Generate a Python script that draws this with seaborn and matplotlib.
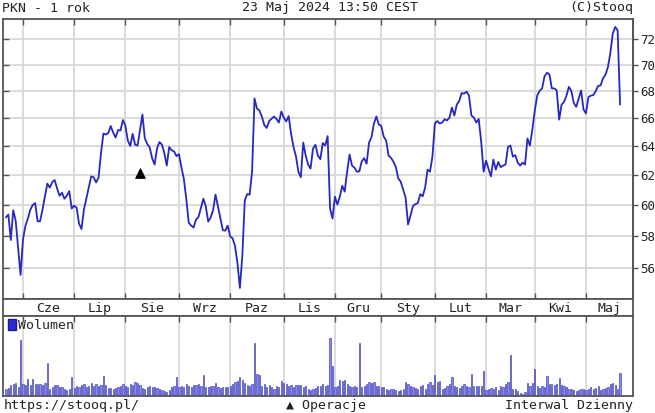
import matplotlib
matplotlib.use("Agg")
import matplotlib.pyplot as plt
import numpy as np
import pandas as pd
import seaborn as sns
from matplotlib.ticker import FixedLocator, FixedFormatter, NullLocator, NullFormatter
from matplotlib.patches import Patch

# ---------------- data ----------------
holidays = ["2023-06-08", "2023-08-15", "2023-11-01", "2023-12-25", "2023-12-26",
            "2024-01-01", "2024-03-29", "2024-04-01", "2024-05-01", "2024-05-03"]
start_date = "2023-05-23"
end_date = "2024-05-23"

month_labels = ["Cze", "Lip", "Sie", "Wrz", "Paz", "Lis", "Gru",
                "Sty", "Lut", "Mar", "Kwi", "Maj"]
y_ticks = [56, 58, 60, 62, 64, 66, 68, 70, 72]

price = [
    59.19, 59.38, 57.74, 59.66, 58.98, 57.22, 55.57, 57.78, 58.65, 59.12,
    59.70, 60.00, 60.13, 58.94, 58.94, 59.70, 60.56, 61.43, 61.16, 61.53,
    61.67, 61.10, 60.62, 60.82, 60.42, 60.62, 60.92, 59.77, 59.96, 59.83,
    58.79, 58.44, 59.70, 60.42, 61.16, 61.92, 61.86, 61.51, 61.83, 63.50,
    64.90, 64.83, 64.93, 65.44, 64.97, 64.62, 65.15, 65.12, 65.87, 65.48,
    64.41, 64.02, 64.88, 64.11, 64.05, 65.12, 66.27, 64.55, 64.16, 63.91,
    63.16, 62.73, 63.84, 64.30, 64.12, 63.52, 62.66, 63.95, 63.72, 63.64,
    63.31, 63.45, 62.55, 61.76, 60.42, 58.86, 58.66, 58.54, 59.05, 59.22,
    59.80, 60.42, 59.92, 58.92, 59.18, 59.67, 60.69, 59.90, 59.12, 58.37,
    58.34, 58.66, 57.97, 57.85, 57.36, 56.30, 54.78, 56.75, 60.30, 60.73,
    60.69, 62.24, 67.45, 66.71, 66.57, 66.13, 65.52, 65.30, 65.80, 65.97,
    66.13, 65.95, 65.69, 66.49, 66.05, 65.77, 66.16, 64.90, 63.95, 63.31,
    62.24, 61.86, 64.26, 63.35, 62.73, 62.45, 63.84, 64.11, 63.35, 63.10,
    64.23, 64.05, 64.72, 59.77, 59.12, 60.56, 60.03, 60.56, 61.29, 60.89,
    62.24, 63.42, 62.66, 62.52, 62.24, 62.26, 62.95, 63.17, 62.79, 64.26,
    64.65, 65.62, 66.13, 65.55, 65.45, 64.69, 64.41, 63.35, 63.19, 62.93,
    62.55, 61.78, 61.56, 61.03, 60.49, 58.73, 59.31, 59.93, 60.06, 60.13,
    60.72, 60.58, 61.16, 62.38, 62.24, 63.28, 65.62, 65.80, 65.62, 65.69,
    65.93, 65.84, 66.05, 66.78, 66.20, 67.00, 67.26, 67.85, 67.81, 67.96,
    67.66, 66.20, 66.05, 65.69, 65.95, 64.34, 62.24, 63.00, 62.45, 61.92,
    63.07, 62.38, 62.90, 62.55, 62.66, 62.73, 63.95, 64.05, 63.28, 63.38,
    62.86, 62.66, 62.86, 62.73, 64.55, 64.05, 65.19, 66.56, 67.66, 68.02,
    68.20, 69.11, 69.38, 69.27, 68.20, 68.20, 68.05, 65.90, 67.00, 67.19,
    67.66, 68.32, 68.00, 67.12, 66.83, 67.44, 68.05, 66.64, 66.35, 67.55,
    67.66, 67.70, 68.00, 68.39, 68.43, 68.96, 69.23, 69.80, 70.90, 72.44,
    72.96, 72.68, 67.00,
]

# daily volume (relative units, axis unlabeled in the original)
volume = [
    7, 8, 11, 12, 13, 9, 56, 12, 11, 17,
    11, 17, 12, 12, 12, 11, 13, 33, 7, 9,
    11, 11, 9, 9, 7, 6, 7, 19, 8, 10,
    9, 11, 12, 9, 10, 13, 10, 12, 10, 11,
    20, 11, 8, 8, 7, 8, 9, 10, 12, 10,
    9, 12, 11, 14, 13, 11, 8, 7, 9, 10,
    9, 9, 8, 7, 6, 5, 4, 6, 9, 10,
    19, 9, 10, 9, 12, 10, 9, 11, 11, 12,
    10, 21, 9, 9, 10, 10, 13, 9, 8, 9,
    9, 9, 10, 12, 14, 15, 19, 16, 13, 11,
    10, 12, 53, 22, 21, 10, 12, 9, 11, 9,
    7, 10, 9, 15, 13, 12, 10, 11, 9, 11,
    11, 11, 9, 10, 7, 6, 7, 8, 10, 10,
    12, 10, 11, 58, 30, 9, 10, 16, 15, 16,
    12, 10, 9, 10, 9, 53, 9, 10, 12, 14,
    13, 14, 10, 10, 9, 9, 7, 6, 7, 7,
    6, 5, 6, 7, 14, 12, 10, 9, 8, 7,
    10, 11, 7, 12, 14, 11, 21, 14, 15, 7,
    8, 10, 12, 19, 10, 9, 8, 10, 12, 10,
    9, 22, 10, 10, 10, 10, 25, 6, 7, 8,
    7, 9, 6, 10, 9, 12, 14, 41, 7, 7,
    5, 3, 2, 4, 13, 10, 13, 27, 10, 8,
    10, 9, 20, 12, 12, 11, 12, 18, 11, 10,
    9, 7, 7, 6, 5, 6, 7, 7, 6, 7,
    9, 7, 8, 10, 6, 7, 8, 9, 12, 13,
    11, 7, 23,
]

op_dates = ["2023-08-09"]
op_levels = [62.15]

# ---------------- frame ----------------
dates = pd.bdate_range(start_date, end_date, freq="C", holidays=holidays)
n = min(len(dates), len(price), len(volume))
df = pd.DataFrame({"date": dates[:n], "price": price[:n], "vol": volume[:n]})
df["idx"] = np.arange(n)

month_key = df["date"].dt.to_period("M")
month_starts = df.groupby(month_key)["idx"].min().values[1:]  # first trading day of each month (Jun..May)
op_idx = [int(df.index[df["date"] == pd.Timestamp(d)][0]) for d in op_dates]
op_df = pd.DataFrame({"idx": op_idx, "lvl": op_levels})

# ---------------- style ----------------
sns.set_style("white")
plt.rcParams["font.family"] = ["DejaVu Sans Mono", "DejaVu Sans"]
FS = 9.5
GRID = "#d8d8d8"
SPINE = "#555555"
LINE = "#2727c3"
TXT = "#222222"

W, H = 655, 413
fig = plt.figure(figsize=(W / 100, H / 100), dpi=100)

XL = (-1.2, 257.3)
left = 3 / W
width = 630 / W

# price panel
ax = fig.add_axes([left, 1 - 299 / H, width, 280 / H])
sns.lineplot(data=df, x="idx", y="price", ax=ax, color=LINE, lw=1.3)
sns.scatterplot(data=op_df, x="idx", y="lvl", ax=ax, marker="^", color="black",
                s=50, edgecolor="black", zorder=5)
ax.set_yscale("log")
ax.set_ylim(54.12, 73.6)
ax.set_xlim(*XL)
ax.yaxis.set_major_locator(FixedLocator(y_ticks))
ax.yaxis.set_major_formatter(NullFormatter())
ax.yaxis.set_minor_locator(NullLocator())
ax.xaxis.set_major_locator(FixedLocator(month_starts))
ax.xaxis.set_major_formatter(NullFormatter())
ax.xaxis.set_minor_locator(NullLocator())
ax.grid(True, which="major", color=GRID, lw=1.3)
ax.set_axisbelow(True)
ax.tick_params(axis="y", which="both", direction="in", left=True, right=False,
               length=4, width=1, color=SPINE, labelleft=False)
ax.tick_params(axis="x", which="major", direction="in", top=True, bottom=True,
               length=4, width=1, color=SPINE)
ax.set_xlabel("")
ax.set_ylabel("")

sec = ax.secondary_yaxis("right")
sec.yaxis.set_major_locator(FixedLocator(y_ticks))
sec.yaxis.set_major_formatter(FixedFormatter([str(v) for v in y_ticks]))
sec.yaxis.set_minor_locator(NullLocator())
sec.tick_params(axis="y", direction="out", length=3.5, width=1, color=SPINE,
                labelsize=9, pad=1.5, labelcolor=TXT)
sec.spines["right"].set_color(SPINE)
sec.spines["right"].set_linewidth(1.3)

for s in ax.spines.values():
    s.set_color(SPINE)
    s.set_linewidth(1.3)

# month band
axb = fig.add_axes([left, 1 - 316 / H, width, 17 / H])
axb.set_xlim(*XL)
axb.set_ylim(0, 1)
bounds = list(month_starts) + [XL[1]]
mids = [(bounds[i] + bounds[i + 1]) / 2 for i in range(len(month_starts))]
for m, lab in zip(mids, month_labels):
    axb.text(m, 0.45, lab, ha="center", va="center", fontsize=FS, color=TXT)
axb.set_xticks([])
axb.set_yticks([])
axb.set_facecolor("white")
for s in axb.spines.values():
    s.set_color(SPINE)
    s.set_linewidth(1.3)

# volume panel
axv = fig.add_axes([left, 1 - 396 / H, width, 80 / H])
sns.barplot(data=df, x="idx", y="vol", ax=axv, native_scale=True, width=0.5,
            color="#8a8af4", edgecolor="#3a3ab8", linewidth=0.45, saturation=1)
axv.set_xlim(*XL)
axv.set_ylim(0, 80)
axv.xaxis.set_major_locator(FixedLocator(month_starts))
axv.xaxis.set_major_formatter(NullFormatter())
axv.xaxis.set_minor_locator(NullLocator())
axv.set_yticks([])
axv.grid(True, axis="x", color=GRID, lw=1.3)
axv.set_axisbelow(True)
axv.tick_params(axis="x", direction="in", top=True, bottom=False, length=4,
                width=1, color=SPINE)
axv.set_xlabel("")
axv.set_ylabel("")
for s in axv.spines.values():
    s.set_color(SPINE)
    s.set_linewidth(1.3)
axv.legend(handles=[Patch(facecolor="#2b2bd0", edgecolor="#1a1a9a", label="Wolumen")],
           loc="upper left", frameon=False, fontsize=FS, handlelength=0.6,
           handleheight=0.9, handletextpad=0.15, borderaxespad=0.05,
           borderpad=0.15, bbox_to_anchor=(0.004, 1.0))

# header / footer
fig.text(2 / W, 1 - 8 / H, "PKN - 1 rok", fontsize=FS, va="center", ha="left", color=TXT)
fig.text(330 / W, 1 - 8 / H, "23 Maj 2024 13:50 CEST", fontsize=FS, va="center", ha="center", color=TXT)
fig.text(633 / W, 1 - 8 / H, "(C)Stooq", fontsize=FS, va="center", ha="right", color=TXT)
fig.text(4 / W, 1 - 405 / H, "https://stooq.pl/", fontsize=FS, va="center", ha="left", color=TXT)
fig.text(326 / W, 1 - 405 / H, "▲ Operacje", fontsize=FS, va="center", ha="center", color=TXT)
fig.text(633 / W, 1 - 405 / H, "Interwal Dzienny", fontsize=FS, va="center", ha="right", color=TXT)

fig.savefig("out.png", dpi=100)
